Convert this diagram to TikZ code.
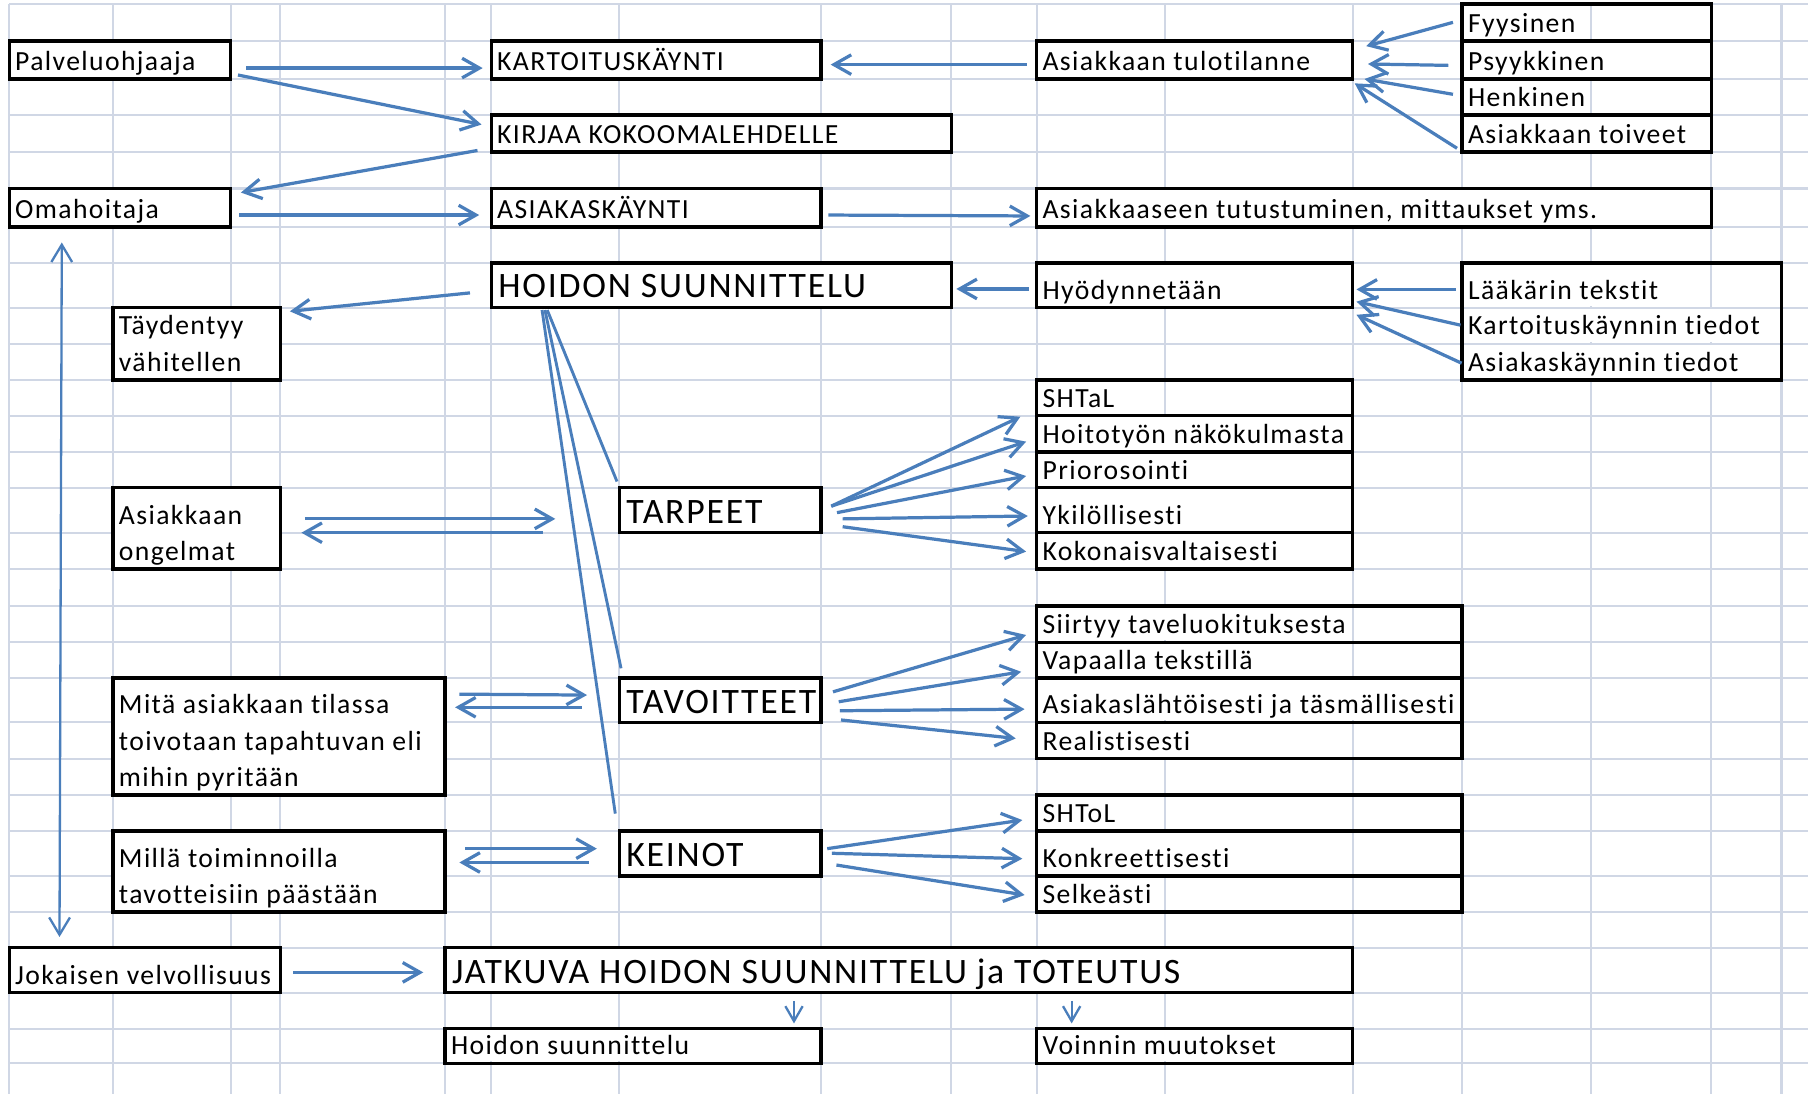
\documentclass[tikz,border=0pt]{standalone}
\usepackage{fontspec}
\setmainfont{Carlito}[LetterSpace=5, Ligatures={NoCommon,NoContextual}]
\usetikzlibrary{arrows.meta,calc,fit}

\definecolor{gridc}{HTML}{D0D7E5}
\definecolor{arrc}{HTML}{4A7EBB}

\pgfdeclarelayer{gridlayer}
\pgfdeclarelayer{masklayer}
\pgfsetlayers{gridlayer,masklayer,main}

\newcommand\nf{\fontsize{24}{28}\selectfont}
\newcommand\bigf{\fontsize{31}{36}\selectfont}

\tikzset{
  gridline/.style={draw=gridc, line width=1.8pt},
  cellbox/.style={draw=black, line width=2.8pt, inner sep=0pt},
  merged/.style={cellbox, fill=white},
  arr/.style={draw=arrc, line width=2.8pt, -{Straight Barb[length=15pt,width=17pt]}},
  darr/.style={draw=arrc, line width=2pt, {Straight Barb[length=15pt,width=18pt]}-{Straight Barb[length=15pt,width=18pt]}},
  thinarr/.style={draw=arrc, line width=2pt, -{Straight Barb[length=13pt,width=15pt]}},
  fanline/.style={draw=arrc, line width=2.5pt},
}

% box spanning grid cells: name, x1, y1, x2, y2
\newcommand\cell[6][cellbox]{\node[#1, fit={(#3,#4) (#5,#6)}] (#2) {};}
% text in a cell row, with the grid hidden behind it: name, left x, row top, row bottom, font, text
\newcommand\celltext[7][7.5]{%
  \node[anchor=base west, inner sep=0pt] (#2) at ({#3+5},{#5-#1}) {#6#7};
  \begin{pgfonlayer}{masklayer}
    \pgfmathsetmacro\cellh{#5-#4-3}
    \node[anchor=south west, fill=white, inner sep=0pt, minimum height=\cellh pt]
      at ({#3+1.5},{#5-1.5}) {\phantom{#6#7}\hspace{6pt}};
  \end{pgfonlayer}}

\begin{document}
\begin{tikzpicture}[x=1pt,y=-1pt]
\useasboundingbox (0,0) rectangle (1568,949);

% spreadsheet grid
\begin{pgfonlayer}{gridlayer}
  \foreach \gx in {8,98,200,243,386,426,537,712,825,899,1010,1173,1268,1380,1484,1545}
    \draw[gridline] (\gx,3.5) -- (\gx,949);
  \foreach \gy in {3.5,35.6,68.5,99.7,131.8,163.5,196.9,228,267,298,329.6,360.5,392,423,462,493.5,525.5,557,588,626.5,658,689.5,720.7,759.7,791,822,861,892,922}
    \draw[gridline] (8,\gy) -- (1568,\gy);
\end{pgfonlayer}

% boxes
\cell{pal}{8}{35.6}{200}{68.5}
\cell{kart}{426}{35.6}{712}{68.5}
\cell{tulo}{899}{35.6}{1173}{68.5}
\cell{fyys}{1268}{3.5}{1484}{35.6}
\cell{psyk}{1268}{35.6}{1484}{68.5}
\cell{henk}{1268}{68.5}{1484}{99.7}
\cell{toiv}{1268}{99.7}{1484}{131.8}
\cell{kirj}{426}{99.7}{825}{131.8}
\cell{oma}{8}{163.5}{200}{196.9}
\cell{asiak}{426}{163.5}{712}{196.9}
\cell{tutu}{899}{163.5}{1484}{196.9}
\cell{hoid}{426}{228}{825}{267}
\cell{hyod}{899}{228}{1173}{267}
\cell{laak}{1268}{228}{1545}{329.6}
\cell[merged]{tayd}{98}{267}{243}{329.6}
\cell{shtal}{899}{329.6}{1173}{360.5}
\cell{hoito}{899}{360.5}{1173}{392}
\cell{prio}{899}{392}{1173}{423}
\cell{ykil}{899}{423}{1173}{462}
\cell{koko}{899}{462}{1173}{493.5}
\cell[merged]{ong}{98}{423}{243}{493.5}
\cell{tarp}{537}{423}{712}{462}
\cell{siir}{899}{525.5}{1268}{557}
\cell{vapa}{899}{557}{1268}{588}
\cell{asla}{899}{588}{1268}{626.5}
\cell{real}{899}{626.5}{1268}{658}
\cell[merged]{mita}{98}{588}{386}{689.5}
\cell{tavo}{537}{588}{712}{626.5}
\cell{shtol}{899}{689.5}{1268}{720.7}
\cell{konk}{899}{720.7}{1268}{759.7}
\cell{selk}{899}{759.7}{1268}{791}
\cell[merged]{mill}{98}{720.7}{386}{791}
\cell{kein}{537}{720.7}{712}{759.7}
\cell{jok}{8}{822}{243}{861}
\cell{jatk}{386}{822}{1173}{861}
\cell{hsu}{386}{892}{712}{922}
\cell{voin}{899}{892}{1173}{922}

% texts
\celltext{t-pal}{8}{35.6}{68.5}{\nf}{Palveluohjaaja}
\celltext{t-kart}{426}{35.6}{68.5}{\nf}{KARTOITUSKÄYNTI}
\celltext{t-tulo}{899}{35.6}{68.5}{\nf}{Asiakkaan tulotilanne}
\celltext{t-fyys}{1268}{3.5}{35.6}{\nf}{Fyysinen}
\celltext{t-psyk}{1268}{35.6}{68.5}{\nf}{Psyykkinen}
\celltext{t-henk}{1268}{68.5}{99.7}{\nf}{Henkinen}
\celltext{t-toiv}{1268}{99.7}{131.8}{\nf}{Asiakkaan toiveet}
\celltext{t-kirj}{426}{99.7}{131.8}{\nf}{KIRJAA KOKOOMALEHDELLE}
\celltext{t-oma}{8}{163.5}{196.9}{\nf}{Omahoitaja}
\celltext{t-asiak}{426}{163.5}{196.9}{\nf}{ASIAKASKÄYNTI}
\celltext{t-tutu}{899}{163.5}{196.9}{\nf}{Asiakkaaseen tutustuminen, mittaukset yms.}
\celltext[9]{t-hoid}{427}{228}{267}{\bigf}{HOIDON SUUNNITTELU}
\celltext{t-hyod}{899}{228}{267}{\nf}{Hyödynnetään}
\celltext{t-laak1}{1268}{228}{267}{\nf}{Lääkärin tekstit}
\celltext{t-laak2}{1268}{267}{298}{\nf}{Kartoituskäynnin tiedot}
\celltext{t-laak3}{1268}{298}{329.6}{\nf}{Asiakaskäynnin tiedot}
\celltext{t-tayd1}{98}{267}{298}{\nf}{Täydentyy}
\celltext{t-tayd2}{98}{298}{329.6}{\nf}{vähitellen}
\celltext{t-shtal}{899}{329.6}{360.5}{\nf}{SHTaL}
\celltext{t-hoito}{899}{360.5}{392}{\nf}{Hoitotyön näkökulmasta}
\celltext{t-prio}{899}{392}{423}{\nf}{Priorosointi}
\celltext{t-ykil}{899}{423}{462}{\nf}{Ykilöllisesti}
\celltext{t-koko}{899}{462}{493.5}{\nf}{Kokonaisvaltaisesti}
\celltext{t-ong1}{98}{423}{462}{\nf}{Asiakkaan}
\celltext{t-ong2}{98}{462}{493.5}{\nf}{ongelmat}
\celltext[8]{t-tarp}{538}{423}{462}{\bigf}{TARPEET}
\celltext{t-siir}{899}{525.5}{557}{\nf}{Siirtyy taveluokituksesta}
\celltext{t-vapa}{899}{557}{588}{\nf}{Vapaalla tekstillä}
\celltext{t-asla}{899}{588}{626.5}{\nf}{Asiakaslähtöisesti ja täsmällisesti}
\celltext{t-real}{899}{626.5}{658}{\nf}{Realistisesti}
\celltext{t-mita1}{98}{588}{626.5}{\nf}{Mitä asiakkaan tilassa}
\celltext{t-mita2}{98}{626.5}{658}{\nf}{toivotaan tapahtuvan eli}
\celltext{t-mita3}{98}{658}{689.5}{\nf}{mihin pyritään}
\celltext[8]{t-tavo}{538}{588}{626.5}{\bigf}{TAVOITTEET}
\celltext{t-shtol}{899}{689.5}{720.7}{\nf}{SHToL}
\celltext{t-konk}{899}{720.7}{759.7}{\nf}{Konkreettisesti}
\celltext{t-selk}{899}{759.7}{791}{\nf}{Selkeästi}
\celltext{t-mill1}{98}{720.7}{759.7}{\nf}{Millä toiminnoilla}
\celltext{t-mill2}{98}{759.7}{791}{\nf}{tavotteisiin päästään}
\celltext[8]{t-kein}{538}{720.7}{759.7}{\bigf}{KEINOT}
\celltext{t-jok}{8}{822}{861}{\nf}{Jokaisen velvollisuus}
\celltext[8]{t-jatk}{387}{822}{861}{\bigf}{JATKUVA HOIDON SUUNNITTELU ja TOTEUTUS}
\celltext{t-hsu}{386}{892}{922}{\nf}{Hoidon suunnittelu}
\celltext{t-voin}{899}{892}{922}{\nf}{Voinnin muutokset}

% connectors in the upper part
\draw[arr] ($(pal.east)+(12,7)$) -- ($(kart.west)+(-6,7)$);
\draw[arr] ($(pal.east)+(5,13)$) -- ($(kirj.west)+(-7,-7.75)$);
\draw[arr] ($(kirj.west)+(-10.5,14.75)$) -- ($(oma.east)+(7.5,-13.2)$);
\draw[arr] ($(oma.east)+(6,6.3)$) -- ($(asiak.west)+(-9,6.3)$);
\draw[arr] ($(tulo.west)+(-7,4)$) -- ($(kart.east)+(7,4)$);
\draw[arr] ($(asiak.east)+(5,6.3)$) -- ($(tutu.west)+(-4,7.1)$);
\draw[arr] ($(hyod.west)+(-5,3.1)$) -- ($(hoid.east)+(3,3.1)$);
\draw[arr] ($(hoid.west)+(-17,6.5)$) -- ($(tayd.east)+(7,-28.3)$);

\draw[arr] ($(fyys.west)+(-6.5,-0.15)$) -- ($(tulo.east)+(10.5,-12)$);
\draw[arr] ($(psyk.west)+(-10.5,4.65)$) -- ($(tulo.east)+(12,3.45)$);
\draw[arr] ($(henk.west)+(-6.5,-2.3)$) -- ($(tulo.east)+(9,16.45)$);
\draw[arr] ($(toiv.west)+(-3,12.85)$) -- ($(tulo.east)+(0.5,20.25)$);

\draw[arr] ($(laak.west)+(-4,-27.8)$) -- ($(hyod.east)+(2,3.5)$);
\draw[arr] ($(laak.west)+(0,3.2)$) -- ($(hyod.east)+(2,14.1)$);
\draw[arr] ($(laak.west)+(1,36.2)$) -- ($(hyod.east)+(2,25.5)$);

% planning fans out into needs, goals and means
\draw[fanline] ($(hoid.south west)+(50,0.5)$) -- ($(tarp.north west)+(-0.5,-4)$);
\draw[fanline] ($(hoid.south west)+(48,0.5)$) -- ($(tavo.north west)+(3,-7)$);
\draw[fanline] ($(hoid.south west)+(45.5,0.5)$) -- ($(kein.north west)+(-2,-13.7)$);

% two-way links on the left
\draw[darr] ($(oma.south west)+(47,12)$) -- ($(jok.north west)+(45,-8)$);
\draw[arr] ($(ong.east)+(20,-8.25)$) -- ($(tarp.west)+(-54,7.5)$);
\draw[arr] ($(tarp.west)+(-65,19.5)$) -- ($(ong.east)+(17,3.75)$);
\draw[arr] ($(mita.east)+(11,-36.75)$) -- ($(tavo.west)+(-26.5,-4.45)$);
\draw[arr] ($(tavo.west)+(-31,6.15)$) -- ($(mita.east)+(7.3,-25.35)$);
\draw[arr] ($(mill.east)+(16,-19.85)$) -- ($(kein.west)+(-18,-4.2)$);
\draw[arr] ($(kein.west)+(-25,7.8)$) -- ($(mill.east)+(11,-7.85)$);

% needs
\draw[arr] ($(tarp.east)+(7.5,-3.5)$) -- ($(shtal.south west)+(-12.7,-0.5)$);
\draw[arr] ($(tarp.east)+(7.5,-3.5)$) -- ($(hoito.west)+(-7.7,6.75)$);
\draw[arr] ($(tarp.east)+(12.5,2.1)$) -- ($(prio.west)+(-7.7,5.3)$);
\draw[arr] ($(tarp.east)+(17.4,7.5)$) -- ($(ykil.west)+(-6.2,5)$);
\draw[arr] ($(tarp.east)+(17.4,14.3)$) -- ($(koko.west)+(-7.7,0.65)$);

% goals
\draw[arr] ($(tavo.east)+(9,-7.25)$) -- ($(siir.west)+(-7.7,9.45)$);
\draw[arr] ($(tavo.east)+(14,1.35)$) -- ($(vapa.west)+(-12,10.1)$);
\draw[arr] ($(tavo.east)+(15,9.15)$) -- ($(asla.west)+(-9,7.75)$);
\draw[arr] ($(tavo.east)+(16,17.15)$) -- ($(real.west)+(-16.7,-1.85)$);

% means
\draw[arr] ($(kein.east)+(4,-4.2)$) -- ($(shtol.west)+(-11,6.1)$);
\draw[arr] ($(kein.east)+(8,-0.2)$) -- ($(konk.west)+(-11,4.5)$);
\draw[arr] ($(kein.east)+(12,10)$) -- ($(selk.west)+(-9,0.85)$);

% continuous planning
\draw[arr] ($(jok.east)+(10,1.8)$) -- ($(jatk.west)+(-17.5,1.8)$);
\draw[thinarr] ($(jatk.south west)+(304,5.5)$) -- ($(hsu.north west)+(304,-3)$);
\draw[thinarr] ($(jatk.south west)+(544.8,5.5)$) -- ($(voin.north west)+(31.8,-3)$);
\end{tikzpicture}
\end{document}
